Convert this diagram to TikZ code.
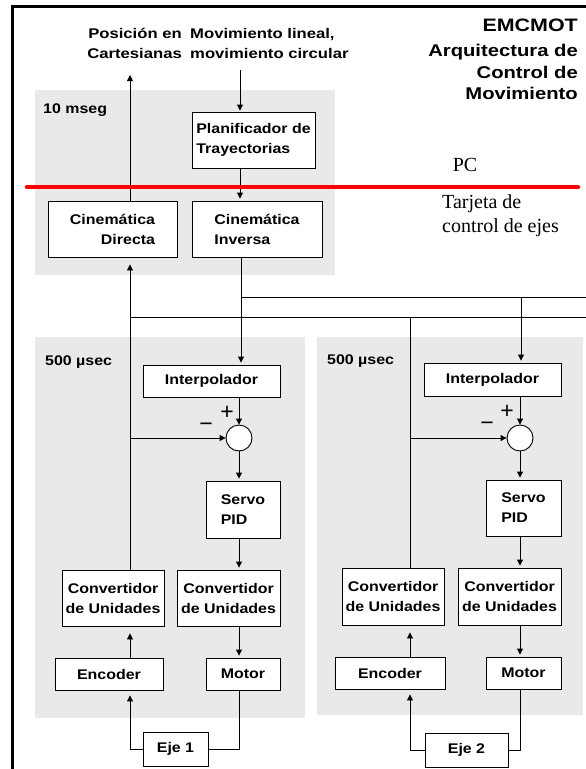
\documentclass[tikz,border=0pt]{standalone}
\usepackage{fontspec}
\setmainfont{Liberation Sans}
\newfontfamily\labfont[FakeStretch=1.14]{Liberation Sans}
\newfontfamily\topfont[FakeStretch=1.19]{Liberation Sans}
\newfontfamily\notefont{Liberation Serif}
\usetikzlibrary{arrows.meta}

\begin{document}
\begin{tikzpicture}[x=1pt,y=-1pt,
  blk/.style={draw,fill=white,line width=0.9pt,inner sep=0pt,
    font=\labfont\bfseries\fontsize{14}{20}\selectfont},
  wire/.style={line width=0.9pt},
  arr/.style={wire,-{Triangle[length=6pt,width=6pt]},shorten >=2pt},
  arrup/.style={wire,-{Triangle[length=6pt,width=6pt]},shorten >=7pt},
  panel/.style={fill=gray!17,draw=none},
  sumpt/.style={circle,draw,fill=white,line width=0.9pt,minimum size=26pt,inner sep=0pt},
  lbl/.style={font=\labfont\bfseries\fontsize{14}{20}\selectfont,inner sep=0pt},
  toplbl/.style={font=\topfont\bfseries\fontsize{14}{20}\selectfont,inner sep=0pt},
  sign/.style={font=\fontsize{23}{23}\selectfont,inner sep=0pt},
  note/.style={font=\notefont\fontsize{20}{24}\selectfont,inner sep=0pt},
]
\useasboundingbox (0,0) rectangle (586,769);

% shaded timing regions
\fill[panel] (35,90) rectangle (335,275);
\fill[panel] (35,337) rectangle (305,718);
\fill[panel] (317,337) rectangle (583,715);

% frame
\draw[line width=3pt] (12,769) -- (12,6) -- (586,6);

% title
\node[anchor=east,font=\topfont\bfseries\fontsize{18}{22}\selectfont,inner sep=0pt] (ttl) at (578,25) {EMCMOT};
\node[anchor=east,align=right,font=\topfont\bfseries\fontsize{17}{21.5}\selectfont,inner sep=0pt] (sub) at (578,72) {Arquitectura de\\Control de\\Movimiento};

% top inputs / outputs
\node[toplbl,anchor=east,align=right] (poslbl) at (182,43) {Posición en\\Cartesianas};
\node[toplbl,anchor=west,align=left] (movlbl) at (190,43) {Movimiento lineal,\\movimiento circular};

% region labels
\node[lbl,anchor=west] (t10) at (43,110) {10 mseg};
\node[lbl,anchor=west] (t500a) at (45,362) {500 µsec};
\node[lbl,anchor=west] (t500b) at (327,361) {500 µsec};

% PC level
\node[blk,minimum width=123pt,minimum height=56pt,align=left] (plan) at (253.5,140) {Planificador de\\Trayectorias};
\node[blk,minimum width=129pt,minimum height=56pt,align=right] (cdir) at (112.5,229) {Cinemática\\Directa};
\node[blk,minimum width=130pt,minimum height=56pt,align=left] (cinv) at (257,229) {Cinemática\\Inversa};

% axis 1
\node[blk,minimum width=137pt,minimum height=32pt] (interp1) at (211.5,381) {Interpolador};
\node[sumpt] (sum1) at (239,438) {};
\node[blk,minimum width=74pt,minimum height=57pt,align=left] (servo1) at (243,509.5) {Servo\\PID};
\node[blk,minimum width=102pt,minimum height=56pt,align=center] (conv1a) at (113,598) {Convertidor\\de Unidades};
\node[blk,minimum width=103pt,minimum height=56pt,align=center] (conv1b) at (228.5,598) {Convertidor\\de Unidades};
\node[blk,minimum width=108pt,minimum height=32pt] (enc1) at (109,674) {Encoder};
\node[blk,minimum width=74pt,minimum height=32pt] (mot1) at (243,674) {Motor};
\node[blk,minimum width=65pt,minimum height=34pt] (eje1) at (175.5,749) {Eje 1};

% axis 2
\node[blk,minimum width=137pt,minimum height=33pt] (interp2) at (492.5,379.5) {Interpolador};
\node[sumpt] (sum2) at (520,438) {};
\node[blk,minimum width=75pt,minimum height=56pt,align=left] (servo2) at (523.5,508) {Servo\\PID};
\node[blk,minimum width=102pt,minimum height=57pt,align=center] (conv2a) at (393,596.5) {Convertidor\\de Unidades};
\node[blk,minimum width=103pt,minimum height=57pt,align=center] (conv2b) at (509.5,596.5) {Convertidor\\de Unidades};
\node[blk,minimum width=110pt,minimum height=32pt] (enc2) at (390,673) {Encoder};
\node[blk,minimum width=75pt,minimum height=32pt] (mot2) at (523.5,673) {Motor};
\node[blk,minimum width=83pt,minimum height=34pt] (eje2) at (466.5,750) {Eje 2};

% summing-junction signs
\node[sign] (plus1) at (227,413) {+};
\node[sign] (minus1) at (206,427) {−};
\node[sign] (plus2) at (507,412) {+};
\node[sign] (minus2) at (487,426) {−};

% free ends and bus taps
\coordinate (posout) at (130,75);
\coordinate (movin) at (240,70);
\coordinate (busA) at (241,297);
\coordinate (busAend) at (586,297);
\coordinate (busB) at (130,317);
\coordinate (busBend) at (586,317);
\coordinate (tapA2) at (521,297);
\coordinate (tapB2) at (410,317);
\coordinate (fb1) at (130,438);
\coordinate (fb2) at (410,438);

% PC level connectors
\draw[arr,shorten >=1pt] (movin) -- (plan.north -| movin);
\draw[arrup,shorten >=0pt] (cdir.north -| posout) -- (posout);
\draw[arr] (plan.south -| movin) -- (cinv.north -| movin);

% command bus to the axes
\draw[arr] (cinv.south -| busA) -- (interp1.north -| busA);
\draw[wire] (busA) -- (busAend);
\draw[arr] (tapA2) -- (interp2.north -| tapA2);

% position feedback bus
\draw[arrup] (conv1a.north -| busB) -- (cdir.south -| busB);
\draw[wire] (busB) -- (busBend);
\draw[wire] (tapB2) -- (conv2a.north -| tapB2);

% axis 1 loop
\draw[arr,shorten >=0pt] (interp1.south -| sum1) -- (sum1.north);
\draw[arr,shorten >=0pt] (fb1) -- (sum1.west);
\draw[arr] (sum1.south) -- (servo1.north -| sum1);
\draw[arr] (servo1.south -| sum1) -- (conv1b.north -| sum1);
\draw[arr] (conv1b.south -| sum1) -- (mot1.north -| sum1);
\draw[wire] (mot1.south -| sum1) |- (eje1.east);
\draw[arrup,shorten >=5pt] (eje1.west) -| (enc1.south -| busB);
\draw[arrup] (enc1.north -| busB) -- (conv1a.south -| busB);

% axis 2 loop
\draw[arr,shorten >=0pt] (interp2.south -| sum2) -- (sum2.north);
\draw[arr,shorten >=0pt] (fb2) -- (sum2.west);
\draw[arr] (sum2.south) -- (servo2.north -| sum2);
\draw[arr] (servo2.south -| sum2) -- (conv2b.north -| sum2);
\draw[arr] (conv2b.south -| sum2) -- (mot2.north -| sum2);
\draw[wire] (mot2.south -| sum2) |- (eje2.east);
\draw[arrup,shorten >=5pt] (eje2.west) -| (enc2.south -| tapB2);
\draw[arrup] (enc2.north -| tapB2) -- (conv2a.south -| tapB2);

% PC / board boundary
\draw[red,line width=4.5pt,line cap=round] (27,187) -- (578,187);
\node[note] (pc) at (465,165) {PC};
\node[note,anchor=west,align=left] (tarj) at (442,216) {Tarjeta de\\control de ejes};

\end{tikzpicture}
\end{document}
